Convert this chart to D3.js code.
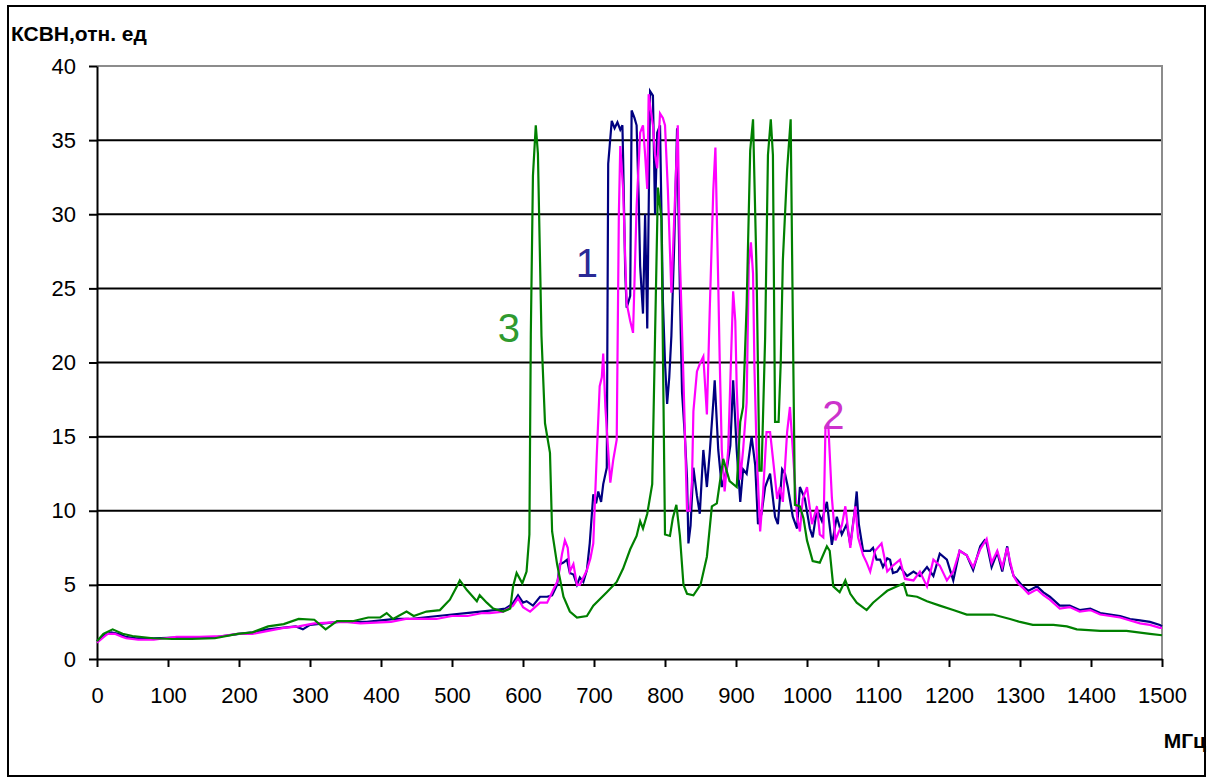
<!DOCTYPE html>
<html lang="ru">
<head>
    <meta charset="UTF-8">
    <title>КСВН</title>
    <script src="https://d3js.org/d3.v7.min.js"></script>
    <style>
        body { margin: 0; background: #fff; }
        svg { font-family: "Liberation Sans", Arial, sans-serif; }
        .tick-label { font-size: 22px; fill: #000; }
        .axis-title { font-size: 21px; font-weight: bold; fill: #000; }
        .series-label { font-size: 40px; }
    </style>
</head>
<body>
<svg id="chart"></svg>
<script>
// series 1 (navy)
const freq1 = [0,10,20,30,40,55,80,110,140,170,200,220,240,260,280,290,300,320,340,360,380,400,420,440,460,480,500,520,540,560,575,585,593,600,605,614,624,634,641,648,652,657,662,666,671,676,680,685,690,694,699,703,706,710,713,718,720,725,729,733,737,740,741,744,746,751,753,757,760,763,765,769,772,775,779,783,786,789,793,797,800,803,806,809,813,817,821,824,828,831,833,836,840,845,849,854,859,863,868,870,875,880,887,892,896,901,906,910,915,922,927,931,936,941,948,955,959,965,969,973,980,986,990,997,1004,1008,1014,1021,1028,1035,1042,1049,1056,1061,1068,1070,1073,1079,1084,1089,1093,1098,1103,1107,1113,1117,1121,1127,1131,1141,1150,1159,1169,1178,1187,1197,1206,1215,1225,1234,1244,1250,1253,1260,1268,1275,1282,1286,1291,1297,1304,1312,1324,1333,1342,1356,1370,1384,1399,1413,1427,1441,1455,1469,1483,1497,1500];
const ksvn1 = [1.2,1.6,1.8,1.7,1.5,1.4,1.4,1.45,1.45,1.5,1.7,1.8,2.0,2.1,2.2,2.0,2.3,2.4,2.5,2.5,2.5,2.6,2.7,2.7,2.8,2.9,3.0,3.1,3.2,3.3,3.4,3.7,4.3,3.8,3.9,3.6,4.2,4.2,4.3,5.0,6.4,6.5,6.7,5.8,5.7,5.0,5.5,5.2,6.0,7.8,11.1,10.5,11.3,10.6,11.8,12.9,33.4,36.3,35.8,36.2,35.7,36.0,33.8,26,23.7,24.5,37,36.5,36,31,26.5,23.3,30,22.3,38.3,38,30,35.5,36,24.2,20,17.2,19,21.8,28,35.8,24.7,18,15,12.2,7.8,9,12.9,11,9.8,14.1,11.6,13.9,17.3,18.8,14.1,11.6,12.8,14.4,18.8,14.1,10.6,12.8,12.5,15,13.1,9.1,9.8,11.6,12.5,9.6,9.1,12.8,12.5,11.6,9.6,8.8,11.6,10.8,8.8,8.2,10.1,9.3,10.6,7.7,9.6,8.4,9.1,7.7,10.3,11.3,9.1,7.3,7.3,7.3,7.5,6.7,6.7,6.2,6.8,6.7,5.8,5.9,6.2,5.6,5.9,5.6,6.2,5.6,7.1,6.7,5.3,7.3,7.0,6.0,7.6,8.0,7.8,6.2,7.2,5.9,7.6,6.4,5.6,5.3,4.9,4.6,4.9,4.5,4.2,3.6,3.6,3.3,3.4,3.1,3.0,2.9,2.7,2.6,2.5,2.3,2.2];

// series 2 (magenta)
const freq2 = [0,10,15,25,35,41,58,80,112,144,176,198,219,241,263,284,306,327,349,371,392,414,435,457,478,500,522,543,553,572,586,593,600,610,617,624,634,642,649,655,659,663,666,671,676,680,685,690,695,699,704,708,711,713,716,718,723,727,732,735,737,741,744,746,751,755,760,765,769,772,775,777,780,783,786,789,793,797,800,804,809,814,818,821,826,831,835,838,840,845,849,854,859,863,868,871,875,877,880,884,889,894,896,899,901,906,910,915,918,921,924,926,929,934,938,943,948,953,958,962,966,972,976,980,986,990,994,1000,1007,1014,1018,1023,1026,1030,1035,1040,1044,1049,1054,1061,1068,1072,1079,1084,1089,1096,1105,1113,1121,1131,1138,1150,1159,1169,1178,1187,1197,1206,1215,1225,1234,1244,1253,1260,1268,1275,1282,1286,1291,1297,1304,1312,1324,1333,1342,1356,1370,1384,1399,1413,1427,1441,1455,1469,1483,1497,1500];
const ksvn2 = [1.1,1.5,1.7,1.7,1.5,1.4,1.3,1.3,1.5,1.5,1.55,1.7,1.7,1.9,2.1,2.2,2.4,2.45,2.5,2.4,2.45,2.5,2.7,2.7,2.7,2.9,2.9,3.1,3.1,3.2,3.6,4.1,3.5,3.2,3.5,3.8,3.8,4.6,5.3,7.1,8.0,7.5,5.9,6.4,5.0,5.0,5.5,6.0,6.8,7.8,13.9,18.4,19,20.6,17,15.5,11.9,13.4,14.8,30,34.6,31.7,27,24,22.8,22,30.5,35.5,36,34,31.7,38.1,37,36,34,33.1,36.8,36.5,36,31.7,24.7,31,36,27,18.9,10,10,12,16.7,19.4,19.9,20.4,16.5,23.5,31.6,34.5,25.3,20.3,14.1,11.3,14.1,21.8,24.8,22.8,18.3,12.1,14.1,17.3,26.6,28.1,26,19.6,14.1,8.6,11.1,15.3,15.3,13.1,10.8,11.6,10.6,15.3,17,14.1,9.6,8.6,10.8,11.6,9.1,10.3,8.4,8.2,15.6,15.8,10.9,8,8.5,9.0,10.3,7.5,10.3,8.2,7.0,6.5,5.9,7.3,7.8,5.9,6.3,6.7,5.4,5.3,5.9,4.9,6.7,6.3,5.3,5.9,7.3,7.0,6.2,7.4,8.1,6.5,7.3,6.2,7.5,6.6,5.6,5.1,4.8,4.4,4.7,4.3,4.0,3.4,3.5,3.2,3.3,3.0,2.9,2.8,2.6,2.4,2.3,2.1,2.1];

// series 3 (green)
const freq3 = [0,9,22,36,50,79,106,133,166,198,219,241,263,284,306,322,338,360,382,399,408,417,436,446,464,483,497,507,511,521,535,539,549,558,572,582,586,591,599,605,609,611,614,618,621,624,626,631,638,641,648,657,666,676,690,699,718,732,741,751,760,765,769,775,782,786,790,795,797,800,807,811,816,821,826,831,840,850,859,866,873,882,891,901,906,910,915,920,924,929,933,936,941,945,949,952,955,960,963,966,972,977,980,983,990,995,1000,1008,1018,1028,1032,1037,1046,1054,1061,1070,1084,1093,1103,1113,1127,1136,1141,1155,1169,1187,1206,1225,1244,1262,1286,1300,1318,1347,1366,1380,1413,1450,1483,1500];
const ksvn3 = [1.2,1.7,2.0,1.7,1.55,1.4,1.35,1.35,1.4,1.7,1.8,2.2,2.35,2.7,2.65,2.0,2.55,2.55,2.8,2.8,3.1,2.7,3.2,2.9,3.2,3.3,4.0,4.9,5.3,4.65,3.9,4.3,3.8,3.4,3.2,3.4,4.9,5.8,5.1,5.9,8.4,21.9,32.6,36,34.1,26.8,21.8,15.9,13.9,8.6,6.4,4.2,3.2,2.8,2.9,3.6,4.5,5.2,6.1,7.4,8.3,9.3,8.8,9.8,11.8,21.8,31.8,29.7,21,8.4,8.3,9.5,10.4,8.3,5,4.4,4.3,5,6.9,10.3,10.5,13.5,12,11.6,16,17,23.9,34.3,36.4,26,12.7,12.7,21.6,34,36.4,34,16,16,20,26.9,33,36.4,23,10.4,10.3,9.5,8,6.6,6.5,7.6,7.3,4.9,4.5,5.3,4.4,3.8,3.3,3.8,4.2,4.6,4.9,5.1,4.3,4.2,3.9,3.6,3.3,3.0,3.0,3.0,2.7,2.5,2.3,2.3,2.2,2.0,1.9,1.9,1.7,1.6];

const xTicks = d3.range(0, 1501, 100);
const yTicks = d3.range(0, 41, 5);

const W = 1214, H = 778;
const plot = {left: 97, right: 1162, top: 66, bottom: 659};

const svg = d3.select("#chart").attr("width", W).attr("height", H);

// outer frame
svg.append("rect")
    .attr("x", 8).attr("y", 6)
    .attr("width", 1197).attr("height", 770)
    .attr("fill", "none").attr("stroke", "#000").attr("stroke-width", 2);

const x = d3.scaleLinear().domain([0, 1500]).range([plot.left, plot.right]);
const y = d3.scaleLinear().domain([0, 40]).range([plot.bottom, plot.top]);

// horizontal grid
svg.append("g")
    .selectAll("line")
    .data(yTicks.filter(v => v > 0 && v < 40))
    .join("line")
    .attr("x1", plot.left).attr("x2", plot.right)
    .attr("y1", d => y(d)).attr("y2", d => y(d))
    .attr("stroke", "#000").attr("stroke-width", 2);

// grey plot-area border (top, right)
svg.append("path")
    .attr("d", `M${plot.left},${y(40)}H${plot.right}V${plot.bottom}`)
    .attr("fill", "none").attr("stroke", "#8c8c8c").attr("stroke-width", 2);

// y axis
const yAxis = svg.append("g")
    .attr("transform", `translate(${plot.left},0)`)
    .call(d3.axisLeft(y).tickValues(yTicks).tickSize(8).tickSizeOuter(0).tickPadding(13));
yAxis.select(".domain").attr("stroke-width", 2);
yAxis.selectAll(".tick line").attr("stroke-width", 2);
yAxis.selectAll("text").attr("class", "tick-label").attr("font-family", null).attr("font-size", null);

// x axis
const xAxis = svg.append("g")
    .attr("transform", `translate(0,${plot.bottom})`)
    .call(d3.axisBottom(x).tickValues(xTicks).tickFormat(d3.format("d")).tickSize(8).tickSizeOuter(0).tickPadding(20));
xAxis.select(".domain").attr("stroke-width", 2);
xAxis.selectAll(".tick line").attr("stroke-width", 2);
xAxis.selectAll("text").attr("class", "tick-label").attr("font-family", null).attr("font-size", null);

const line = d3.line()
    .x(d => x(d[0]))
    .y(d => y(d[1]));

const series = [
    {f: freq1, v: ksvn1, color: "#000080"},
    {f: freq2, v: ksvn2, color: "#ff00ff"},
    {f: freq3, v: ksvn3, color: "#008000"}
];

series.forEach(s => {
    svg.append("path")
        .datum(d3.zip(s.f, s.v))
        .attr("d", line)
        .attr("fill", "none")
        .attr("stroke", s.color)
        .attr("stroke-width", 2.2)
        .attr("stroke-linejoin", "miter");
});

// titles
svg.append("text").attr("class", "axis-title")
    .attr("x", 11).attr("y", 41)
    .text("КСВН,отн. ед");
svg.append("text").attr("class", "axis-title")
    .attr("x", 1206).attr("y", 748)
    .attr("text-anchor", "end")
    .text("МГц");

// curve numbers
const labels = [
    {t: "1", f: 690, v: 25.8, color: "#2a2a96"},
    {t: "2", f: 1037, v: 15.5, color: "#cc33cc"},
    {t: "3", f: 580, v: 21.4, color: "#2f9a2f"}
];
svg.selectAll(".series-label")
    .data(labels)
    .join("text")
    .attr("class", "series-label")
    .attr("x", d => x(d.f))
    .attr("y", d => y(d.v))
    .attr("text-anchor", "middle")
    .attr("fill", d => d.color)
    .text(d => d.t);
</script>
</body>
</html>
